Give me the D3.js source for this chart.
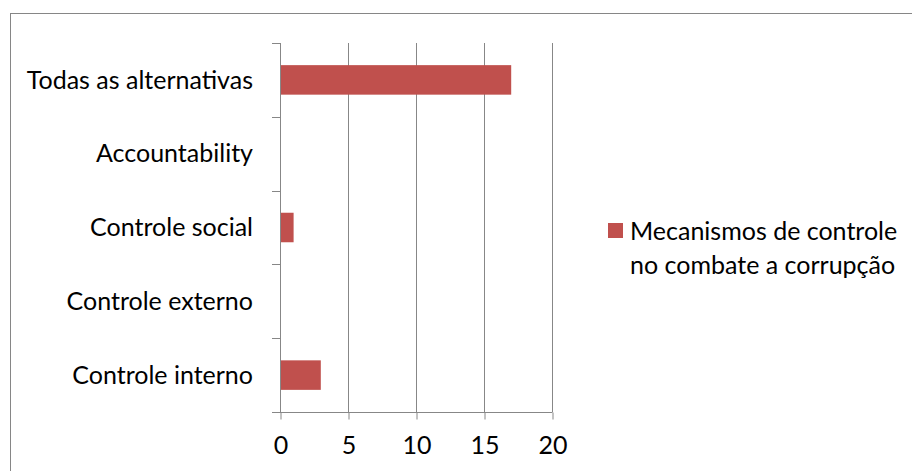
<!DOCTYPE html>
<html><head><meta charset="utf-8">
<script src="https://cdn.jsdelivr.net/npm/d3@7"></script>
<style>body{margin:0;background:#fff}svg{display:block}text{font-family:Lato,"Open Sans",sans-serif;fill:#000}</style>
</head><body>
<svg id="c" width="912" height="471"></svg>
<script>
const categories = ["Controle interno","Controle externo","Controle social","Accountability","Todas as alternativas"];
const values = [3, 0, 1, 0, 17];
const seriesName = ["Mecanismos de controle","no combate a corrupção"];
const xTicks = [0, 5, 10, 15, 20];

(function(){
const svg = d3.select("#c");
const pL = 280, pR = 552, pT = 43, pB = 412;
const barColor = "#C0504D", gridColor = "#878787";
const fs = 25;

// chart border
svg.append("rect").attr("x",10.5).attr("y",13.5).attr("width",1000).attr("height",1000)
  .attr("fill","none").attr("stroke","#868686").attr("stroke-width",1);

const x = d3.scaleLinear().domain([0,20]).range([pL,pR]);
const y = d3.scaleBand().domain(categories.slice().reverse()).range([pT,pB]).paddingInner(0.6).paddingOuter(0.3);

// grid lines
svg.append("g").selectAll("line").data(xTicks.filter(d=>d>0)).join("line")
  .attr("x1",d=>Math.round(x(d))+0.5).attr("x2",d=>Math.round(x(d))+0.5)
  .attr("y1",pT).attr("y2",pB).attr("stroke",gridColor).attr("stroke-width",1);

// bars
svg.append("g").selectAll("rect").data(categories.map((c,i)=>({c,v:values[i]})).filter(d=>d.v>0)).join("rect")
  .attr("x",x(0)).attr("y",d=>y(d.c)).attr("width",d=>x(d.v)-x(0)).attr("height",y.bandwidth())
  .attr("fill",barColor);

// x axis
const xAxis = d3.axisBottom(x).tickValues(xTicks).tickSize(7).tickPadding(17).tickSizeOuter(0);
const gx = svg.append("g").attr("transform",`translate(0.5,${pB+0.5})`).call(xAxis);
gx.select(".domain").attr("stroke",gridColor).attr("d",`M${272-0.5},0H${pR}`);
gx.selectAll(".tick line").attr("stroke",gridColor);
gx.selectAll(".tick text").attr("font-size",fs).attr("font-family","Lato").attr("fill","#000");

// y axis (category) with ticks between categories
const bounds = d3.range(categories.length+1).map(i=>pT + i*(pB-pT)/categories.length);
const gy = svg.append("g");
gy.append("line").attr("x1",pL+0.5).attr("x2",pL+0.5).attr("y1",pT).attr("y2",pB).attr("stroke",gridColor);
gy.selectAll("line.t").data(bounds).join("line").attr("class","t")
  .attr("x1",272).attr("x2",pL).attr("y1",d=>Math.round(d)+0.5).attr("y2",d=>Math.round(d)+0.5).attr("stroke",gridColor);
gy.selectAll("text").data(categories).join("text")
  .attr("x",253).attr("y",d=>y(d)+y.bandwidth()/2).attr("dy","0.35em")
  .attr("text-anchor","end").attr("font-size",fs).text(d=>d);

// legend
const lg = svg.append("g");
lg.append("rect").attr("x",608).attr("y",223).attr("width",15).attr("height",15).attr("fill",barColor);
lg.selectAll("text").data(seriesName).join("text")
  .attr("x",630).attr("y",(d,i)=>231+i*34).attr("dy","0.35em").attr("font-size",fs).text(d=>d);
})();
</script>
</body></html>
